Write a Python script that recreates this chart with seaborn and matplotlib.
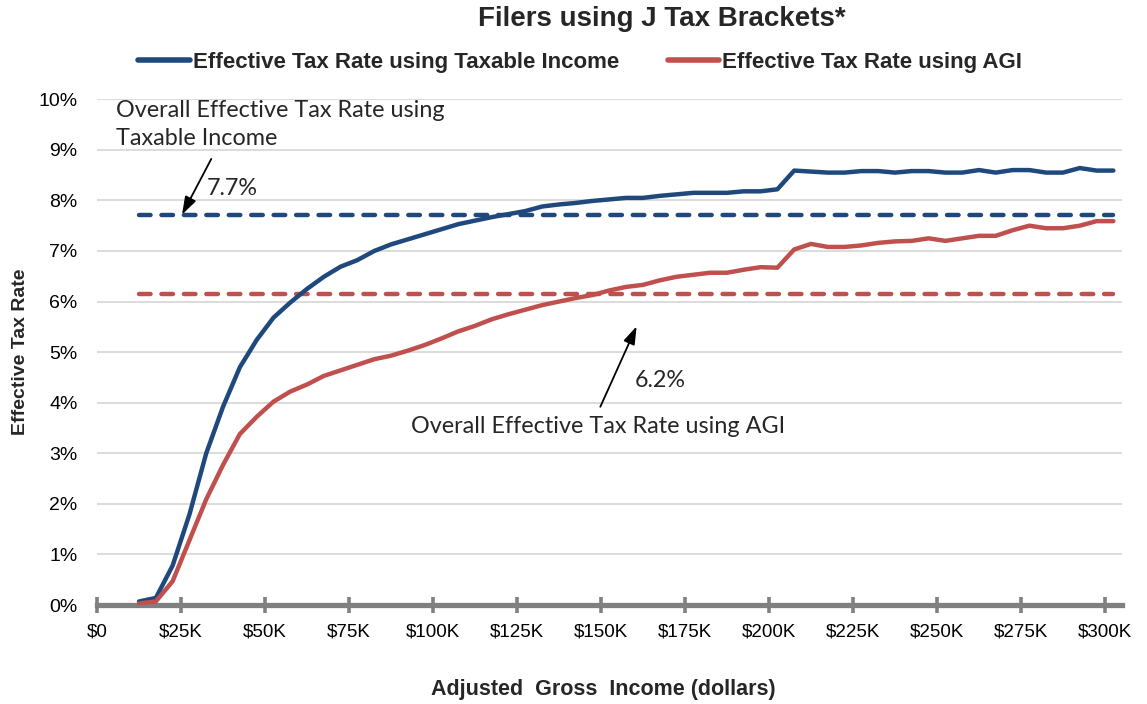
import seaborn as sns
import pandas as pd
import matplotlib.pyplot as plt
from matplotlib.ticker import FuncFormatter

# AGI bracket midpoints, thousands of dollars
income_k = [12.5, 17.5, 22.5, 27.5, 32.5, 37.5, 42.5, 47.5, 52.5, 57.5,
            62.5, 67.5, 72.5, 77.5, 82.5, 87.5, 92.5, 97.5, 102.5, 107.5,
            112.5, 117.5, 122.5, 127.5, 132.5, 137.5, 142.5, 147.5, 152.5, 157.5,
            162.5, 167.5, 172.5, 177.5, 182.5, 187.5, 192.5, 197.5, 202.5, 207.5,
            212.5, 217.5, 222.5, 227.5, 232.5, 237.5, 242.5, 247.5, 252.5, 257.5,
            262.5, 267.5, 272.5, 277.5, 282.5, 287.5, 292.5, 297.5, 302.5]

# effective tax rate (%) using taxable income
rate_taxable = [0.07, 0.14, 0.78, 1.79, 3.00, 3.92, 4.70, 5.24, 5.68, 5.98,
                6.25, 6.49, 6.69, 6.82, 7.00, 7.13, 7.23, 7.33, 7.43, 7.53,
                7.60, 7.67, 7.73, 7.79, 7.88, 7.92, 7.95, 7.99, 8.02, 8.05,
                8.05, 8.09, 8.12, 8.15, 8.15, 8.15, 8.18, 8.18, 8.22, 8.59,
                8.57, 8.55, 8.55, 8.58, 8.58, 8.55, 8.58, 8.58, 8.55, 8.55,
                8.60, 8.55, 8.60, 8.60, 8.55, 8.55, 8.64, 8.59, 8.59]

# effective tax rate (%) using AGI
rate_agi = [0.03, 0.07, 0.47, 1.28, 2.09, 2.77, 3.38, 3.72, 4.02, 4.22,
            4.36, 4.53, 4.64, 4.75, 4.86, 4.93, 5.03, 5.14, 5.27, 5.41,
            5.52, 5.65, 5.75, 5.84, 5.93, 6.00, 6.07, 6.13, 6.22, 6.29,
            6.33, 6.42, 6.49, 6.53, 6.57, 6.57, 6.63, 6.68, 6.67, 7.03,
            7.14, 7.08, 7.08, 7.11, 7.16, 7.19, 7.20, 7.25, 7.20, 7.25,
            7.30, 7.30, 7.41, 7.50, 7.45, 7.45, 7.50, 7.59, 7.59]

overall_taxable = 7.72
overall_agi = 6.15

x_ticks = [0, 25, 50, 75, 100, 125, 150, 175, 200, 225, 250, 275, 300]
x_tick_labels = [r'\$0', r'\$25K', r'\$50K', r'\$75K', r'\$100K', r'\$125K', r'\$150K',
                 r'\$175K', r'\$200K', r'\$225K', r'\$250K', r'\$275K', r'\$300K']

blue = '#1F497D'
red = '#C0504D'
axis_grey = '#808080'

sns.set_theme(style="white")
plt.rcParams['font.family'] = ['Liberation Sans', 'DejaVu Sans']
callout = ['Lato', 'DejaVu Sans']

df = pd.DataFrame({'income': income_k,
                   'taxable': rate_taxable,
                   'agi': rate_agi})

fig, ax = plt.subplots(figsize=(11.47, 7.04), dpi=100)
fig.subplots_adjust(left=0.0846, right=0.978, bottom=0.1406, top=0.859)

ax.yaxis.grid(True, color='#d9d9d9', lw=1.3)
ax.set_axisbelow(True)

# overall averages as dashed lines
for val, col in [(overall_taxable, blue), (overall_agi, red)]:
    ax.plot([income_k[0], income_k[-1]], [val, val], color=col, lw=3.2,
            dashes=(2.6, 2.45), dash_capstyle='round', zorder=2)

sns.lineplot(data=df, x='income', y='taxable', color=blue, lw=3.2, ax=ax,
             label='Effective Tax Rate using Taxable Income',
             solid_capstyle='round', zorder=3)
sns.lineplot(data=df, x='income', y='agi', color=red, lw=3.2, ax=ax,
             label='Effective Tax Rate using AGI',
             solid_capstyle='round', zorder=3)

ax.set_xlim(0, 305)
ax.set_ylim(0, 10)
ax.set_yticks(range(0, 11))
ax.yaxis.set_major_formatter(FuncFormatter(lambda v, pos: f'{v:.0f}%'))
ax.set_xticks(x_ticks)
ax.set_xticklabels(x_tick_labels, fontsize=13.5)

for s in ['top', 'right', 'left']:
    ax.spines[s].set_visible(False)
ax.spines['bottom'].set_color(axis_grey)
ax.spines['bottom'].set_linewidth(3.8)

ax.tick_params(axis='x', bottom=True, direction='inout', length=12, width=2.6,
               color=axis_grey, pad=7, labelcolor='black')
ax.tick_params(axis='y', length=0, pad=14, labelsize=14, labelcolor='black')

ax.set_xlabel('')
ax.set_ylabel('Effective Tax Rate', fontweight='bold', fontsize=14)
ax.yaxis.set_label_coords(-0.066, 0.5)

leg = ax.legend(loc='center', bbox_to_anchor=(0.506, 0.911),
                bbox_transform=fig.transFigure, ncol=2, frameon=False,
                handlelength=2.3, handletextpad=0.15, columnspacing=2.2,
                prop={'weight': 'bold', 'size': 16})
for h in leg.get_lines():
    h.set_linewidth(4)
    h.set_solid_capstyle('round')

fig.text(0.577, 0.973, 'Filers using J Tax Brackets*', ha='center', va='center',
         fontweight='bold', fontsize=20)
fig.text(0.526, 1 - 690 / 704, 'Adjusted  Gross  Income (dollars)', ha='center',
         va='center', fontweight='bold', fontsize=15.5)

# callouts
ax.text(5.5, 9.5, 'Overall Effective Tax Rate using\nTaxable Income', ha='left',
        va='center', fontfamily=callout, fontsize=16.8, linespacing=1.45)
ax.text(32.8, 8.24, '7.7%', ha='left', va='center', fontfamily=callout, fontsize=16.8)
ax.annotate('', xy=(25.3, overall_taxable), xytext=(34, 8.82),
            arrowprops=dict(arrowstyle='-|>,head_length=0.6,head_width=0.2',
                            color='black', lw=1.3, mutation_scale=18,
                            shrinkA=0, shrinkB=0))

ax.text(160, 4.44, '6.2%', ha='left', va='center', fontfamily=callout, fontsize=16.8)
ax.text(149, 3.53, 'Overall Effective Tax Rate using AGI', ha='center', va='center',
        fontfamily=callout, fontsize=16.8)
ax.annotate('', xy=(160.6, 5.51), xytext=(149.8, 3.92),
            arrowprops=dict(arrowstyle='-|>,head_length=0.6,head_width=0.2',
                            color='black', lw=1.3, mutation_scale=18,
                            shrinkA=0, shrinkB=0))

plt.savefig('out.png', dpi=100)
